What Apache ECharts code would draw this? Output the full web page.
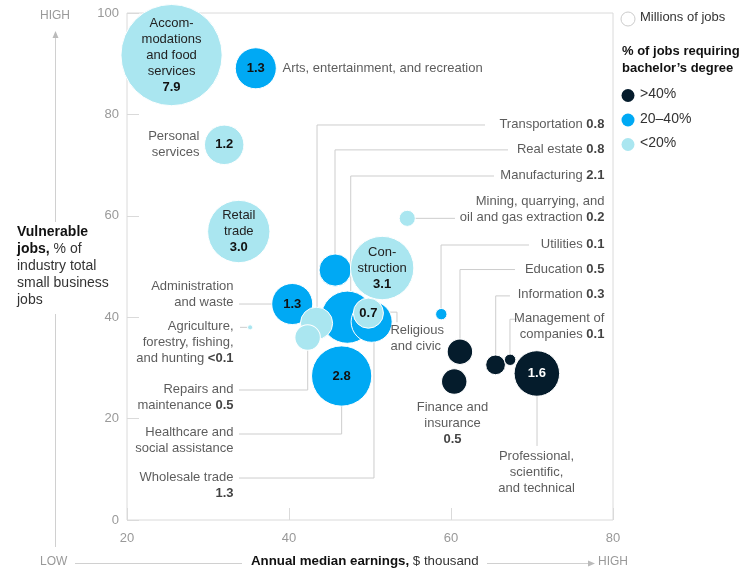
<!DOCTYPE html>
<html><head><meta charset="utf-8">
<script src="https://cdn.jsdelivr.net/npm/echarts@6/dist/echarts.min.js"></script>
<style>html,body{margin:0;padding:0;background:#fff}#c{width:756px;height:571px}</style>
</head><body><div id="c"></div>
<script>
// ---- data ----
const industries = ['Accommodations and food services','Arts, entertainment, and recreation','Personal services','Retail trade','Administration and waste','Agriculture, forestry, fishing, and hunting','Transportation','Repairs and maintenance','Real estate','Manufacturing','Wholesale trade','Construction','Religious and civic','Healthcare and social assistance','Mining, quarrying, and oil and gas extraction','Utilities','Education','Finance and insurance','Information','Management of companies','Professional, scientific, and technical'];
const earnings   = [25.5, 35.9, 32.0, 33.8, 40.4, 35.2, 43.4, 42.3, 45.7, 47.2, 50.2, 51.5, 49.8, 46.5, 54.6, 58.8, 61.1, 60.4, 65.5, 67.3, 70.6];
const vulnerable = [91.7, 89.1, 74.0, 56.9, 42.6, 38.0, 38.8, 36.0, 49.3, 40.0, 39.1, 49.7, 40.8, 28.4, 59.5, 40.6, 33.2, 27.3, 30.6, 31.6, 28.9];
const jobs       = [7.9, 1.3, 1.2, 3.0, 1.3, 0.02, 0.8, 0.5, 0.8, 2.1, 1.3, 3.1, 0.7, 2.8, 0.2, 0.1, 0.5, 0.5, 0.3, 0.1, 1.6];
const degree     = ['<20%','20–40%','<20%','<20%','20–40%','<20%','<20%','<20%','20–40%','20–40%','20–40%','<20%','<20%','20–40%','<20%','20–40%','>40%','>40%','>40%','>40%','>40%'];
const groups = ['>40%','20–40%','<20%'];
const xTicks = [20, 40, 60, 80];
const yTicks = [0, 20, 40, 60, 80, 100];

// text inside bubbles
const innerLabels = {
  'Accommodations and food services': 'Accom-\nmodations\nand food\nservices\n{n|7.9}',
  'Arts, entertainment, and recreation': '{n|1.3}',
  'Personal services': '{n|1.2}',
  'Retail trade': 'Retail\ntrade\n{n|3.0}',
  'Administration and waste': '{n|1.3}',
  'Construction': 'Con-\nstruction\n{n|3.1}',
  'Religious and civic': '{n|0.7}',
  'Healthcare and social assistance': '{n|2.8}',
  'Professional, scientific, and technical': '{w|1.6}'
};

// outside annotations: text, anchor (data units), alignment
const annoText = ['Arts, entertainment, and recreation','Personal\nservices','Administration\nand waste','Agriculture,\nforestry, fishing,\nand hunting {n|<0.1}','Repairs and\nmaintenance {n|0.5}','Healthcare and\nsocial assistance','Wholesale trade\n{n|1.3}','Transportation {n|0.8}','Real estate {n|0.8}','Manufacturing {n|2.1}','Mining, quarrying, and\noil and gas extraction {n|0.2}','Utilities {n|0.1}','Education {n|0.5}','Information {n|0.3}','Management of\ncompanies {n|0.1}','Religious\nand civic','Finance and\ninsurance\n{n|0.5}','Professional,\nscientific,\nand technical'];
const annoX = [39.26, 29.01, 33.21, 33.21, 33.21, 33.21, 33.21, 79.0, 79.0, 79.0, 79.0, 79.0, 79.0, 79.0, 79.0, 52.59, 60.25, 70.62];
const annoY = [88.95, 73.96, 44.38, 34.91, 24.06, 15.58, 6.71, 77.91, 73.0, 67.85, 61.24, 54.24, 49.31, 44.38, 38.17, 35.70, 18.93, 9.27];
const annoAlign = ['left','right','right','right','right','right','right','right','right','right','right','right','right','right','right','left','center','center'];

// leader lines (data units)
const leaders = [
  [[64.2,77.91],[43.46,77.91],[43.46,38.8]],
  [[67.04,73.0],[45.68,73.0],[45.68,49.3]],
  [[65.31,67.85],[47.62,67.85],[47.62,41]],
  [[54.6,59.5],[60.49,59.5]],
  [[69.63,54.24],[58.77,54.24],[58.77,40.6]],
  [[67.9,49.4],[61.11,49.4],[61.11,33.2]],
  [[67.28,44.2],[65.52,44.2],[65.52,30.6]],
  [[68.15,39.6],[67.28,39.6],[67.28,31.6]],
  [[70.62,28.9],[70.62,14.6]],
  [[51.6,41.0],[53.33,41.0],[53.33,39.0]],
  [[33.83,8.28],[50.49,8.28],[50.49,39.1]],
  [[33.83,16.96],[46.5,16.96],[46.5,28.4]],
  [[33.83,25.64],[42.31,25.64],[42.31,36.0]],
  [[33.83,42.6],[40.4,42.6]],
  [[33.95,38.0],[34.81,38.0]]
];

// ---- styles ----
const FONT = '"Liberation Sans", Arial, sans-serif';
const groupColors = {'>40%':'#051c2c','20–40%':'#00a9f4','<20%':'#aae6f0'};
const TXT = '#333';
const richNum = {n:{fontWeight:'bold',color:'#111',fontSize:13,fontFamily:FONT,lineHeight:16}, w:{fontWeight:'bold',color:'#fff',fontSize:13,fontFamily:FONT}};

const bubbleSeries = groups.map(g => {
  const data = [];
  industries.forEach((name, i) => {
    if (degree[i] !== g) return;
    const lab = innerLabels[name];
    data.push({name, value:[earnings[i], vulnerable[i], jobs[i]],
      label: lab ? {show:true, formatter: lab} : {show:false}});
  });
  return {
    type:'scatter', name:g, data, z:3, silent:true,
    symbolSize: v => 36*Math.sqrt(v[2]),
    itemStyle:{color:groupColors[g], borderColor:'#fff', borderWidth:1, opacity:1},
    label:{position:'inside', color:'#222', fontSize:13, lineHeight:16, fontFamily:FONT, rich:richNum},
    emphasis:{disabled:true}
  };
});

const annoSeries = {
  type:'scatter', z:4, silent:true, symbolSize:1, itemStyle:{color:'rgba(0,0,0,0)'},
  data: annoText.map((t,i)=>({value:[annoX[i], annoY[i]],
    label:{show:true, formatter:t, position:[0,0], align:annoAlign[i], verticalAlign:'middle'}})),
  label:{color:TXT, fontSize:13, lineHeight:16, fontFamily:FONT, rich:richNum},
  emphasis:{disabled:true}
};

const lineSeries = {
  type:'lines', coordinateSystem:'cartesian2d', polyline:true, silent:true, z:1,
  lineStyle:{color:'#cdcdcd', width:1, opacity:1},
  data: leaders.map(c => ({coords:c}))
};

const gray = '#999';
const graphic = [
  {type:'text', left:40, top:10, style:{text:'HIGH', fill:gray, font:'12px '+FONT}},
  {type:'line', shape:{x1:55.5,y1:37,x2:55.5,y2:222}, style:{stroke:'#d0d0d0',lineWidth:1}},
  {type:'line', shape:{x1:55.5,y1:314,x2:55.5,y2:547}, style:{stroke:'#d0d0d0',lineWidth:1}},
  {type:'polygon', shape:{points:[[52.5,38],[58.5,38],[55.5,31]]}, style:{fill:'#bbb'}},
  {type:'text', left:17, top:224, style:{
    text:'{b|Vulnerable}\n{b|jobs,} % of\nindustry total\nsmall business\njobs',
    fill:TXT, font:'14px '+FONT, lineHeight:17,
    rich:{b:{fontWeight:'bold', fill:'#111', fontSize:14, fontFamily:FONT, lineHeight:17}}}},
  {type:'text', left:40, top:556, style:{text:'LOW', fill:gray, font:'12px '+FONT}},
  {type:'line', shape:{x1:75,y1:563.5,x2:242,y2:563.5}, style:{stroke:'#d0d0d0',lineWidth:1}},
  {type:'text', left:251, top:555, style:{text:'{b|Annual median earnings,} $ thousand', fill:TXT, font:'13.3px '+FONT,
    rich:{b:{fontWeight:'bold', fill:'#111', fontSize:13.3, fontFamily:FONT}}}},
  {type:'line', shape:{x1:487,y1:563.5,x2:589,y2:563.5}, style:{stroke:'#d0d0d0',lineWidth:1}},
  {type:'polygon', shape:{points:[[588,560.5],[588,566.5],[595,563.5]]}, style:{fill:'#bbb'}},
  {type:'text', left:598, top:556, style:{text:'HIGH', fill:gray, font:'12px '+FONT}},
  // legend
  {type:'circle', shape:{cx:628, cy:19, r:7}, style:{fill:'#fff', stroke:'#ccc', lineWidth:1}},
  {type:'text', left:640, top:11, style:{text:'Millions of jobs', fill:TXT, font:'13px '+FONT}},
  {type:'text', left:622, top:43, style:{text:'% of jobs requiring\nbachelor\u2019s degree', fill:'#111', font:'bold 13px '+FONT, lineHeight:17}}
];
groups.forEach((g,i)=>{
  const cy = [95.5, 120, 144.5][i];
  graphic.push({type:'circle', shape:{cx:628, cy:cy, r:6.5}, style:{fill:groupColors[g]}});
  graphic.push({type:'text', left:640, top:cy-8, style:{text:g, fill:TXT, font:'14px '+FONT}});
});

const chart = echarts.init(document.getElementById('c'), null, {renderer:'canvas'});
chart.setOption({
  animation:false,
  backgroundColor:'#fff',
  grid:{left:127, right:143, top:13, bottom:51, show:true, borderColor:'#dadada', borderWidth:1, containLabel:false},
  xAxis:{type:'value', min:xTicks[0], max:xTicks[xTicks.length-1], interval:xTicks[1]-xTicks[0],
    axisLine:{show:false}, splitLine:{show:false},
    axisTick:{show:true, inside:true, length:12, lineStyle:{color:'#dadada'}},
    axisLabel:{color:gray, fontSize:13, fontFamily:FONT, margin:12}},
  yAxis:{type:'value', min:yTicks[0], max:yTicks[yTicks.length-1], interval:yTicks[1]-yTicks[0],
    axisLine:{show:false}, splitLine:{show:false},
    axisTick:{show:true, inside:true, length:12, lineStyle:{color:'#dadada'}},
    axisLabel:{color:gray, fontSize:13, fontFamily:FONT, margin:8}},
  graphic: graphic,
  series:[lineSeries].concat(bubbleSeries).concat([annoSeries])
});
</script></body></html>
